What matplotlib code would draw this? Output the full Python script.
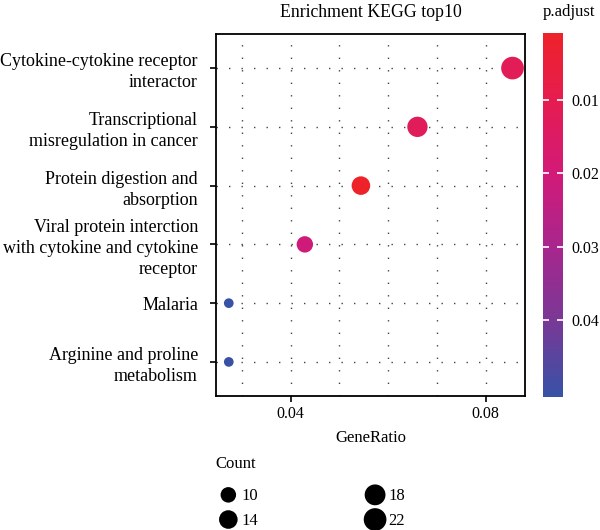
import numpy as np
import matplotlib
matplotlib.use("Agg")
import matplotlib.pyplot as plt
from matplotlib.colors import LinearSegmentedColormap, Normalize

plt.rcParams['font.family'] = ['Liberation Serif', 'DejaVu Serif']

# ---- data ----
categories = [
    "Arginine and proline\nmetabolism",
    "Malaria",
    "Viral protein interction\nwith cytokine and cytokine\nreceptor",
    "Protein digestion and\nabsorption",
    "Transcriptional\nmisregulation in cancer",
    "Cytokine-cytokine receptor\ninteractor",
]
gene_ratio = [0.0273, 0.0273, 0.0429, 0.0544, 0.0660, 0.0855]
counts = [7, 7, 11, 14, 17, 22]
p_adjust = [0.0501, 0.0505, 0.0210, 0.0009, 0.0125, 0.0118]
legend_counts = [10, 14, 18, 22]
x_ticks = [0.04, 0.08]
cbar_ticks = [0.01, 0.02, 0.03, 0.04]

# ---- styling helpers ----
cmap = LinearSegmentedColormap.from_list(
    "padj",
    [(0.0, "#EE2229"), (0.183, "#E61C50"), (0.385, "#D21A78"),
     (0.587, "#A8268D"), (0.788, "#7A3896"), (1.0, "#3752A6")])
norm = Normalize(vmin=min(p_adjust), vmax=max(p_adjust))

cmin, cmax = min(counts), max(counts)
def size_of(c):
    # ggplot-like area scale: diameter = rmin + (rmax-rmin)*sqrt(rescaled)
    d_px = 9.7 + 13.0 * np.sqrt((c - cmin) / (cmax - cmin))
    return (d_px * 0.72) ** 2

fig = plt.figure(figsize=(6.0, 5.3), dpi=100)
ax = fig.add_axes([216/600, 1-396/530, (525-216)/600, (396-34)/530])

ypos = np.arange(1, len(categories) + 1)

# grid
for xv in [0.03, 0.04, 0.05, 0.06, 0.07, 0.08]:
    ax.axvline(xv, color="#444444", lw=1.0, ls=(0, (1, 8)), zorder=1)
for yv in ypos:
    ax.axhline(yv, color="#444444", lw=1.0, ls=(0, (1, 8)), zorder=1)

ax.scatter(gene_ratio, ypos, s=[size_of(c) for c in counts],
           c=p_adjust, cmap=cmap, norm=norm, edgecolors="none", zorder=3)

ax.set_xlim(0.02468, 0.08806)
ax.set_ylim(0.42, 6.58)
ax.set_xticks(x_ticks)
ax.set_xticklabels(["0.04", "0.08"])
ax.set_yticks(ypos)
ax.set_yticklabels(categories, fontsize=13, linespacing=1.3)
ax.tick_params(axis="x", labelsize=11.5, length=4, width=1.2, pad=3)
ax.tick_params(axis="y", length=4, width=1.2, pad=9)
for sp in ax.spines.values():
    sp.set_linewidth(1.3)
ax.set_xlabel("GeneRatio", fontsize=12, labelpad=6)
ax.set_title("Enrichment KEGG top10", fontsize=12.8, pad=12)

# colorbar
cax = fig.add_axes([543/600, 1-397/530, 20/600, (397-33)/530])
sm = matplotlib.cm.ScalarMappable(norm=norm, cmap=cmap)
cb = fig.colorbar(sm, cax=cax)
cb.outline.set_visible(False)
cax.invert_yaxis()
cb.set_ticks(cbar_ticks)
cb.set_ticklabels(["0.01", "0.02", "0.03", "0.04"])
cax.yaxis.set_ticks_position("both")
cax.tick_params(axis="y", direction="in", colors="white", length=4, width=1.2,
                labelcolor="black", labelsize=11.5, left=True, right=True,
                labelleft=False, labelright=True, pad=6)
fig.text(543/600, 1-12/530, "p.adjust", fontsize=12, ha="left", va="center")

# size legend
handles = [ax.scatter([], [], s=size_of(c), color="black", edgecolors="none")
           for c in legend_counts]
leg = fig.legend(handles, [str(c) for c in legend_counts], ncol=2,
                 title="Count", loc="upper left",
                 bbox_to_anchor=(215/600, 1-456/530), frameon=False,
                 fontsize=12, title_fontsize=12, columnspacing=6.2,
                 handlelength=1.6, handleheight=1.0,
                 handletextpad=0.0, labelspacing=0.45, borderaxespad=0,
                 borderpad=0, alignment="left")
leg._legend_box.sep = 11

fig.savefig("out.png", dpi=100)
